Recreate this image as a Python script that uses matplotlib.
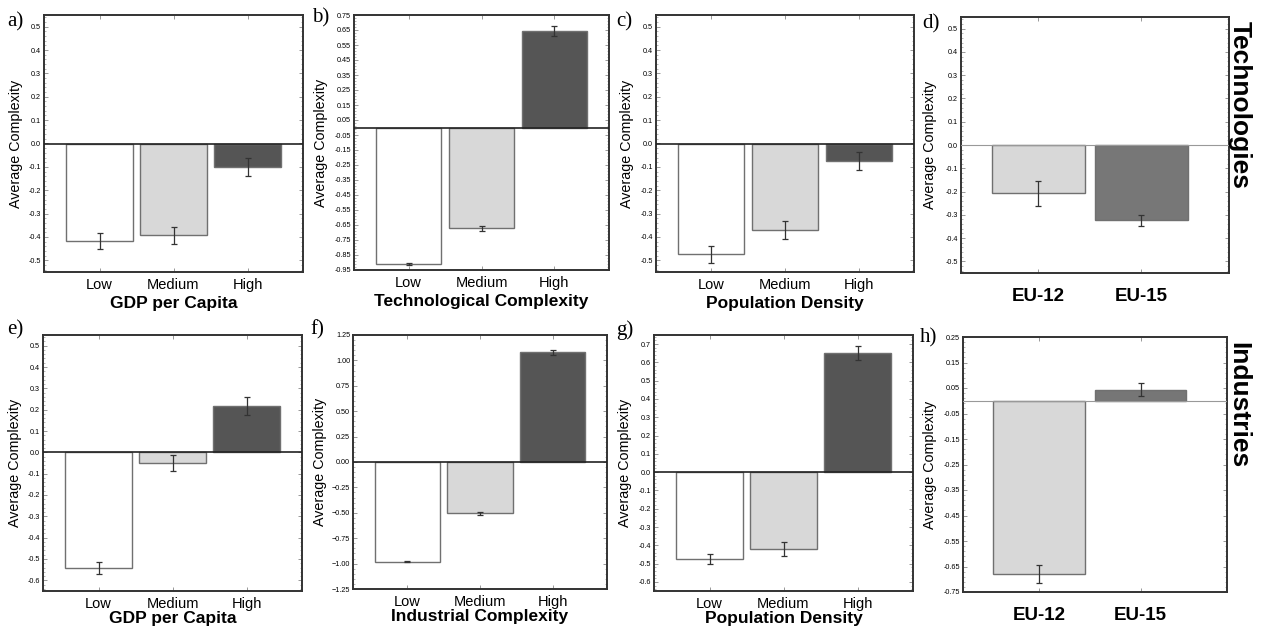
import numpy as np
import matplotlib.pyplot as plt
from matplotlib.ticker import FuncFormatter, AutoMinorLocator

plt.rcParams['font.family'] = ['Liberation Sans', 'DejaVu Sans']
plt.rcParams['axes.unicode_minus'] = False

cats3 = ["Low", "Medium", "High"]
cats_eu = ["EU-12", "EU-15"]

# Technologies (top row)
tech_gdp = [-0.418, -0.393, -0.100]
tech_gdp_err = [0.033, 0.037, 0.040]
tech_tc = [-0.912, -0.672, 0.645]
tech_tc_err = [0.006, 0.015, 0.032]
tech_pd = [-0.475, -0.370, -0.075]
tech_pd_err = [0.035, 0.038, 0.039]
tech_eu = [-0.207, -0.323]
tech_eu_err = [0.054, 0.024]

# Industries (bottom row)
ind_gdp = [-0.544, -0.050, 0.218]
ind_gdp_err = [0.028, 0.036, 0.041]
ind_ic = [-0.980, -0.505, 1.080]
ind_ic_err = [0.006, 0.015, 0.022]
ind_pd = [-0.477, -0.420, 0.652]
ind_pd_err = [0.027, 0.036, 0.040]
ind_eu = [-0.678, 0.044]
ind_eu_err = [0.035, 0.025]

W, H = 1262, 628
fig = plt.figure(figsize=(W / 100, H / 100), dpi=100)

col3 = ['white', '#d8d8d8', '#555555']
col_eu_d = ['#d8d8d8', '#777777']
col_eu_h = ['#d8d8d8', '#767676']


def fmt_minus(dec):
    return FuncFormatter(lambda v, p: (f"{v:.{dec}f}" if abs(v) > 1e-9 else f"{0:.{dec}f}").replace("-", "\u2212"))


# letter, box (l, r, t, b) px, cats, vals, errs, colors, ylim, ystep, ytop, decimals,
# formatter type, xlabel, ylabel x, letter pos
panels = [
    ("a)", (44, 303, 15, 272), cats3, tech_gdp, tech_gdp_err, col3, (-0.55, 0.55), 0.1, 0.5, 1, 'h', "GDP per Capita", -0.081, (7, 12)),
    ("b)", (354, 609, 15, 270), cats3, tech_tc, tech_tc_err, col3, (-0.95, 0.75), 0.1, 0.75, 2, 'h', "Technological Complexity", -0.102, (312, 8)),
    ("c)", (656, 914, 15, 272), cats3, tech_pd, tech_pd_err, col3, (-0.55, 0.55), 0.1, 0.5, 1, 'h', "Population Density", -0.085, (616, 12)),
    ("d)", (961, 1229, 17, 273), cats_eu, tech_eu, tech_eu_err, col_eu_d, (-0.55, 0.55), 0.1, 0.5, 1, 'h', None, -0.09, (922, 14)),
    ("e)", (43, 302, 335, 591), cats3, ind_gdp, ind_gdp_err, col3, (-0.65, 0.55), 0.1, 0.5, 1, 'h', "GDP per Capita", -0.081, (7, 320)),
    ("f)", (353, 607, 335, 589), cats3, ind_ic, ind_ic_err, col3, (-1.25, 1.25), 0.25, 1.25, 2, 'm', "Industrial Complexity", -0.102, (310, 320)),
    ("g)", (654, 913, 335, 591), cats3, ind_pd, ind_pd_err, col3, (-0.65, 0.75), 0.1, 0.7, 1, 'h', "Population Density", -0.085, (616, 320)),
    ("h)", (963, 1227, 337, 592), cats_eu, ind_eu, ind_eu_err, col_eu_h, (-0.75, 0.25), 0.1, 0.25, 2, 'h', None, -0.098, (920, 328)),
]

for (letter, (l, r, t, b), cats, vals, errs, cols, ylim, step, ytop, dec, ftype,
     xlabel, ylx, (lx, ly)) in panels:
    ax = fig.add_axes([l / W, 1 - b / H, (r - l) / W, (b - t) / H])
    x = np.arange(len(cats))
    ax.bar(x, vals, width=0.9, color=cols, edgecolor='#707070', linewidth=1.0, zorder=2)
    ax.errorbar(x, vals, yerr=errs, fmt='none', ecolor='#333333', elinewidth=0.9,
                capsize=2, capthick=0.9, zorder=4)
    if len(cats) == 2:
        ax.axhline(0, color='#999999', lw=0.8, zorder=3)
        ax.set_xlim(-0.75, 1.85)
    else:
        ax.axhline(0, color='#222222', lw=1.2, zorder=3)
        ax.set_xlim(-0.75, 2.75)
    ax.set_ylim(*ylim)
    ticks = np.arange(ytop, ylim[0] - 1e-6, -step)
    ax.set_yticks(ticks)
    ax.yaxis.set_minor_locator(AutoMinorLocator(5))
    if ftype == 'm':
        ax.yaxis.set_major_formatter(fmt_minus(dec))
    else:
        ax.yaxis.set_major_formatter(FuncFormatter(
            lambda v, p, d=dec: f"{0:.{d}f}" if abs(v) < 1e-9 else f"{v:.{d}f}"))
    ax.set_xticks(x)
    if len(cats) == 2:
        ax.set_xticklabels(cats, fontsize=13.5, fontweight='bold')
        xpad = 11
    else:
        ax.set_xticklabels(cats, fontsize=10.5)
        xpad = 4
    ax.tick_params(axis='y', which='major', direction='in', left=True, right=True,
                   length=3, width=0.6, color='#888888', labelsize=5.2, pad=2)
    ax.tick_params(axis='y', which='minor', direction='in', left=True, right=True,
                   length=1.5, width=0.5, color='#999999')
    ax.tick_params(axis='x', which='major', direction='in', top=True, bottom=True,
                   length=3, width=0.6, color='#888888', pad=xpad)
    for s in ax.spines.values():
        s.set_linewidth(1.4)
        s.set_color('#333333')
    ax.set_ylabel("Average Complexity", fontsize=10.3)
    ax.yaxis.set_label_coords(ylx, 0.5)
    if xlabel:
        ax.set_xlabel(xlabel, fontsize=12.5, fontweight='bold',
                      labelpad=3 if t < 100 else 0)
    fig.text(lx / W, 1 - ly / H, letter, fontsize=15, family='Liberation Serif',
             ha='left', va='top')

fig.text(1240 / W, 1 - 105 / H, "Technologies", rotation=-90, fontsize=19,
         fontweight='bold', ha='center', va='center')
fig.text(1238 / W, 1 - 405 / H, "Industries", rotation=-90, fontsize=19,
         fontweight='bold', ha='center', va='center')

fig.savefig("out.png", dpi=100, facecolor='white')
